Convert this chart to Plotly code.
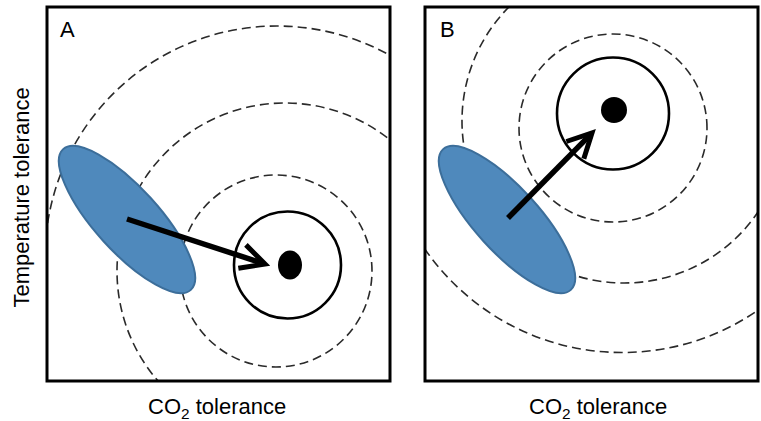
import numpy as np
import plotly.graph_objects as go

# ---------------- data (panel units: 1 unit = 1 px, origin bottom-left of frame) ----
panels = ["A", "B"]
panel_width = [343, 333]
panel_height = 374
panel_gap = 35

# optimum (black dot)
opt_x = [243, 189]
opt_y = [116, 271]
opt_rx = [12, 13]
opt_ry = [14.5, 13]

# solid circle round the optimum
inner_x = [240.5, 188]
inner_y = [116, 267.5]
inner_r = [53.5, 56]

# dashed fitness contours (centre, radius, visible arc start/end angle in degrees)
contour_x = [[229, 238, 230], [188, 199, 197]]
contour_y = [[110, 110, 123], [253, 260, 268]]
contour_r = [[96, 168, 232], [94, 162, 239.5]]
contour_a0 = [[0, 0, 55], [0, 130, 0]]
contour_a1 = [[360, 360, 174], [360, 335, 360]]

# population (blue ellipse)
pop_x = [80, 82]
pop_y = [161.5, 161.5]
pop_a = [95, 95]
pop_b = [32, 32]
pop_angle = [-47.8, -47.8]

# arrows (start at population centre, tip near optimum)
arrow_x0 = [80, 83]
arrow_y0 = [162, 163]
arrow_x1 = [218, 167]
arrow_y1 = [117, 248]

x_title = "CO<sub>2</sub> tolerance"
y_title = "Temperature tolerance"

# ---------------- layout geometry ----------------
W, H = 761, 421
ML, MR, MT, MB = 47, 3, 7, 40
plot_w = W - ML - MR
dom_a = [0, panel_width[0] / plot_w]
dom_b = [(panel_width[0] + panel_gap) / plot_w, 1]
domains = [dom_a, dom_b]

FONT = "Arial, Liberation Sans, Helvetica, sans-serif"
BLUE = "#4F89BC"
BLUE_EDGE = "#3C6E9A"


def ellipse_path(cx, cy, a, b, ang):
    t = np.deg2rad(ang)
    u = np.array([np.cos(t), np.sin(t)])
    v = np.array([-np.sin(t), np.cos(t)])
    c = np.array([cx, cy])
    k = 0.5522847

    def P(q):
        return c + a * np.cos(q) * u + b * np.sin(q) * v

    def D(q):
        return -a * np.sin(q) * u + b * np.cos(q) * v

    qs = [0, np.pi / 2, np.pi, 3 * np.pi / 2, 2 * np.pi]
    p0 = P(0)
    s = f"M{p0[0]:.2f},{p0[1]:.2f}"
    for q0, q1 in zip(qs[:-1], qs[1:]):
        c1 = P(q0) + k * D(q0)
        c2 = P(q1) - k * D(q1)
        e = P(q1)
        s += f" C{c1[0]:.2f},{c1[1]:.2f} {c2[0]:.2f},{c2[1]:.2f} {e[0]:.2f},{e[1]:.2f}"
    return s + " Z"


def arc_path(cx, cy, r, a0, a1):
    """Circular arc from a0 to a1 (deg, counter-clockwise) as cubic Beziers."""
    n = int(np.ceil((a1 - a0) / 90.0))
    step = np.deg2rad((a1 - a0) / n)
    k = 4.0 / 3.0 * np.tan(step / 4.0)
    q = np.deg2rad(a0)
    p = (cx + r * np.cos(q), cy + r * np.sin(q))
    s = f"M{p[0]:.2f},{p[1]:.2f}"
    for _ in range(n):
        q1 = q + step
        c1 = (p[0] - k * r * np.sin(q), p[1] + k * r * np.cos(q))
        e = (cx + r * np.cos(q1), cy + r * np.sin(q1))
        c2 = (e[0] + k * r * np.sin(q1), e[1] - k * r * np.cos(q1))
        s += f" C{c1[0]:.2f},{c1[1]:.2f} {c2[0]:.2f},{c2[1]:.2f} {e[0]:.2f},{e[1]:.2f}"
        q, p = q1, e
    return s


def rot(vv, a):
    return np.array([vv[0] * np.cos(a) - vv[1] * np.sin(a),
                     vv[0] * np.sin(a) + vv[1] * np.cos(a)])


fig = go.Figure()
shapes = []
for i in range(2):
    xr = "x" if i == 0 else "x2"
    yr = "y" if i == 0 else "y2"
    # invisible trace to create the subplot
    fig.add_trace(go.Scatter(x=[pop_x[i]], y=[pop_y[i]], mode="none",
                             xaxis=xr, yaxis=yr, hoverinfo="skip", showlegend=False))
    # dashed contours
    for cx, cy, r, a0, a1 in zip(contour_x[i], contour_y[i], contour_r[i],
                                 contour_a0[i], contour_a1[i]):
        shapes.append(dict(type="path", xref=xr, yref=yr,
                           path=arc_path(cx, cy, r, a0, a1),
                           line=dict(color="#2a2a2a", width=1.6, dash="9px,5px")))
    # solid circle
    r = inner_r[i]
    shapes.append(dict(type="circle", xref=xr, yref=yr,
                       x0=inner_x[i] - r, x1=inner_x[i] + r,
                       y0=inner_y[i] - r, y1=inner_y[i] + r,
                       line=dict(color="black", width=2.6)))
    # optimum dot
    shapes.append(dict(type="circle", xref=xr, yref=yr,
                       x0=opt_x[i] - opt_rx[i], x1=opt_x[i] + opt_rx[i],
                       y0=opt_y[i] - opt_ry[i], y1=opt_y[i] + opt_ry[i],
                       fillcolor="black", line=dict(color="black", width=0)))
    # population ellipse
    shapes.append(dict(type="path", xref=xr, yref=yr,
                       path=ellipse_path(pop_x[i], pop_y[i], pop_a[i], pop_b[i], pop_angle[i]),
                       fillcolor=BLUE, line=dict(color=BLUE_EDGE, width=2)))
    # arrow
    x0, y0, x1, y1 = arrow_x0[i], arrow_y0[i], arrow_x1[i], arrow_y1[i]
    d = np.array([x1 - x0, y1 - y0], dtype=float)
    d /= np.hypot(*d)
    se = np.array([x1, y1]) - d * 4
    shapes.append(dict(type="line", xref=xr, yref=yr, x0=x0, y0=y0, x1=se[0], y1=se[1],
                       line=dict(color="black", width=5.5)))
    hl, ha = 27, np.deg2rad(27)
    w1 = np.array([x1, y1]) + hl * rot(-d, ha)
    w2 = np.array([x1, y1]) + hl * rot(-d, -ha)
    shapes.append(dict(type="path", xref=xr, yref=yr,
                       path=f"M{w1[0]:.2f},{w1[1]:.2f} L{x1},{y1} L{w2[0]:.2f},{w2[1]:.2f}",
                       line=dict(color="black", width=5)))
    # frame
    shapes.append(dict(type="rect", xref="paper", yref="paper",
                       x0=domains[i][0], x1=domains[i][1], y0=0, y1=1,
                       line=dict(color="black", width=3), fillcolor="rgba(0,0,0,0)"))

annotations = []
label_px = [58, 438]
x_title_px = [217, 598]
for i in range(2):
    annotations.append(dict(text=panels[i], xref="paper", yref="paper",
                            x=(label_px[i] - ML) / plot_w, y=(381 - 29) / panel_height,
                            xanchor="left", yanchor="middle", showarrow=False,
                            font=dict(family=FONT, size=22, color="black")))
    annotations.append(dict(text=x_title, xref="paper", yref="paper",
                            x=(x_title_px[i] - ML) / plot_w, y=(381 - 408) / panel_height,
                            xanchor="center", yanchor="middle", showarrow=False,
                            font=dict(family=FONT, size=22, color="black")))
annotations.append(dict(text=y_title, xref="paper", yref="paper", textangle=-90,
                        x=(21 - ML) / plot_w, y=(381 - 197.5) / panel_height,
                        xanchor="center", yanchor="middle", showarrow=False,
                        font=dict(family=FONT, size=22, color="black")))

ax_common = dict(showgrid=False, zeroline=False, showticklabels=False, ticks="",
                 showline=False, fixedrange=True)
fig.update_layout(
    width=W, height=H,
    margin=dict(l=ML, r=MR, t=MT, b=MB, pad=0),
    paper_bgcolor="white", plot_bgcolor="white",
    xaxis=dict(domain=dom_a, range=[0, panel_width[0]], anchor="y", **ax_common),
    yaxis=dict(domain=[0, 1], range=[0, panel_height], anchor="x", **ax_common),
    xaxis2=dict(domain=dom_b, range=[0, panel_width[1]], anchor="y2", **ax_common),
    yaxis2=dict(domain=[0, 1], range=[0, panel_height], anchor="x2", **ax_common),
    shapes=shapes, annotations=annotations, showlegend=False,
)
fig.write_html("out.html", config={"displayModeBar": False},
               post_script="document.body.style.margin='0';document.body.style.overflow='hidden';")
